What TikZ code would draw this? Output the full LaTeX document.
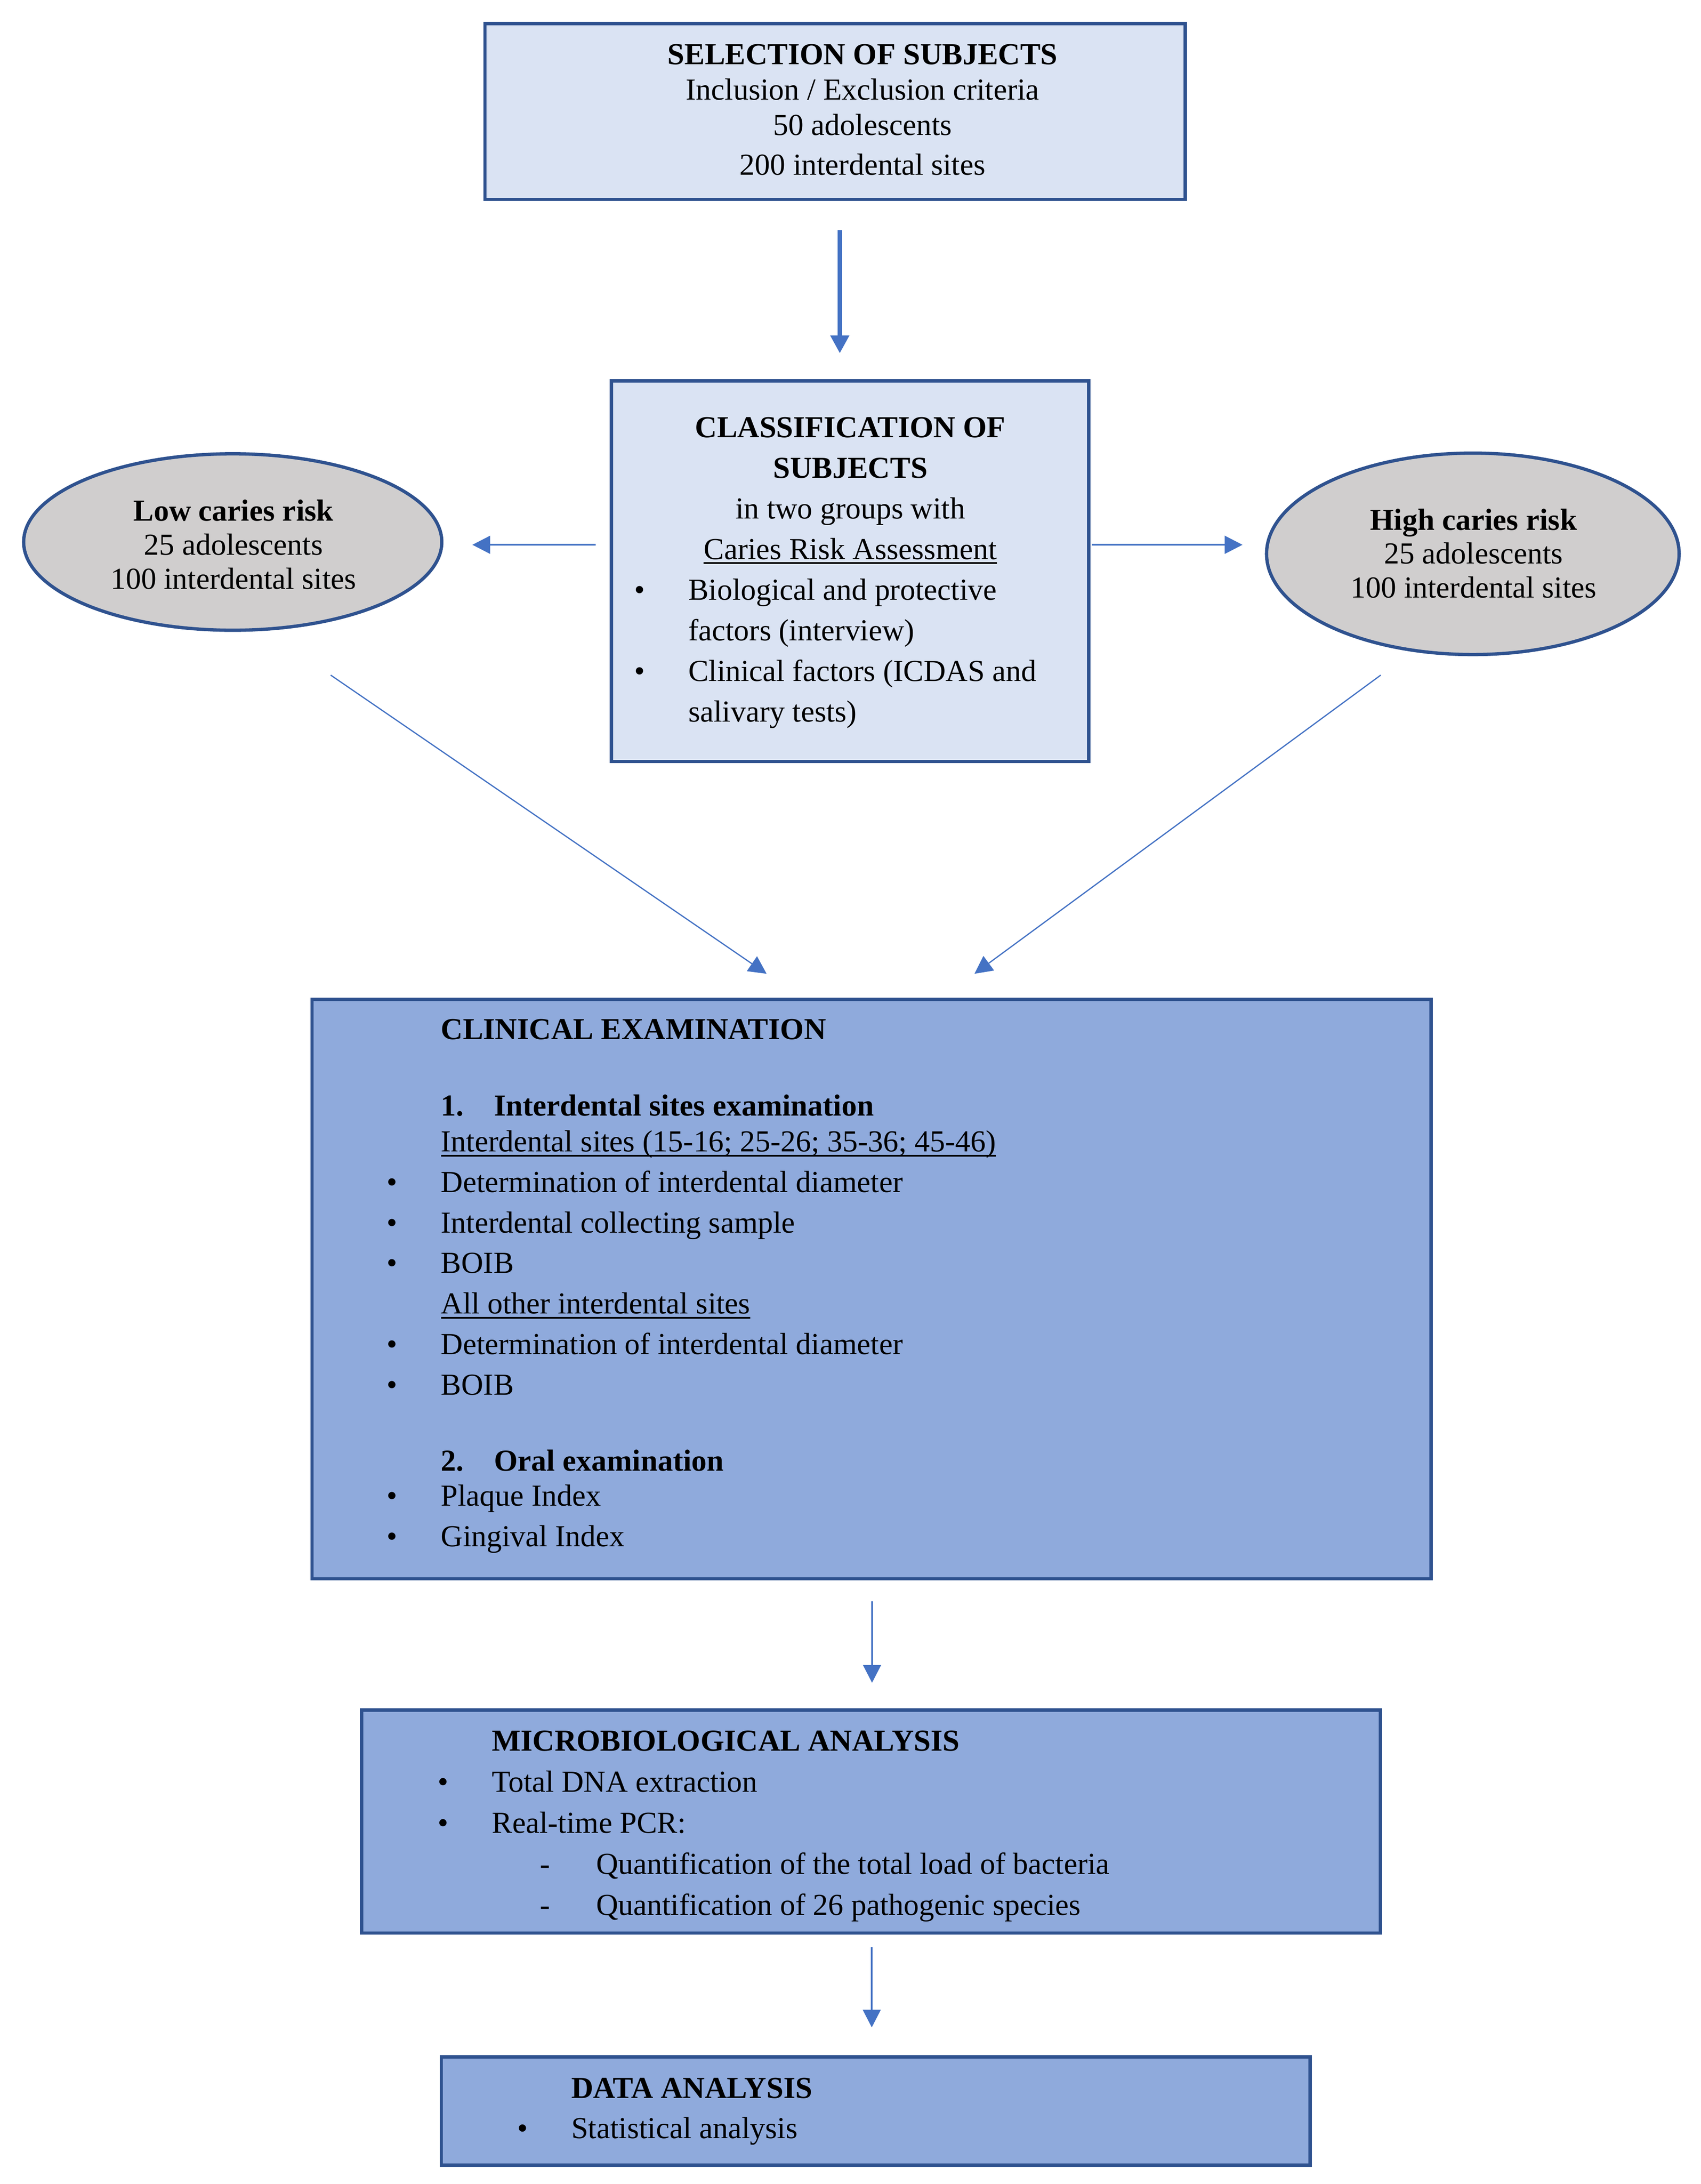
\documentclass[tikz,border=0pt]{standalone}
\usepackage{fontspec}
\setmainfont{Liberation Serif}
\usetikzlibrary{shapes.geometric,arrows.meta,calc}
\definecolor{boxline}{HTML}{2F528F}
\definecolor{boxlight}{HTML}{DAE3F3}
\definecolor{boxmid}{HTML}{8FAADC}
\definecolor{ovalgrey}{HTML}{D0CECE}
\definecolor{arrowblue}{HTML}{4472C4}
\newcommand{\itemdot}{\llap{\makebox[0.78cm][l]{•}}}
\newcommand{\itemdash}{\llap{\makebox[0.81cm][l]{-}}}
\newcommand{\undertext}[1]{\setbox0\hbox{#1}\rlap{\rule[-2pt]{\wd0}{0.7pt}}\box0}

\begin{document}
\begin{tikzpicture}[x=0.02cm, y=-0.02cm,
  lightbox/.style={draw=boxline, fill=boxlight, line width=1.35pt, inner sep=0pt},
  midbox/.style={lightbox, fill=boxmid},
  riskoval/.style={ellipse, draw=boxline, fill=ovalgrey, line width=1.35pt, inner sep=0pt},
  flow/.style={draw=arrowblue, line width=0.75pt, -{Triangle[length=2.56mm, width=2.56mm]}},
  thickflow/.style={flow, line width=1.8pt},
  diagflow/.style={flow, line width=0.5pt},
  txt/.style={inner sep=0pt, font=\fontsize{12.5pt}{#1}\selectfont},
  txt/.default=16.6pt
]
\path[fill=white] (0,0) rectangle (1224,1571.5);
\useasboundingbox (0,0) rectangle (1224,1571.5);

% boxes and ovals
\node[lightbox, minimum width=10.08cm, minimum height=2.53cm] (sel) at (601,80.2) {};
\node[lightbox, minimum width=6.872cm, minimum height=5.48cm] (cls) at (611.8,411) {};
\node[riskoval, minimum width=6.02cm, minimum height=2.54cm] (low) at (167.5,390) {};
\node[riskoval, minimum width=5.94cm, minimum height=2.9cm] (high) at (1060,398.5) {};
\node[midbox, minimum width=16.11cm, minimum height=8.34cm] (clin) at (627.25,927.5) {};
\node[midbox, minimum width=14.67cm, minimum height=3.21cm] (mic) at (626.85,1310.75) {};
\node[midbox, minimum width=12.51cm, minimum height=1.56cm] (dat) at (630.25,1519) {};

% texts
\node[txt=14.45pt, anchor=base] (selText) at (620.8,46.5) {\begin{tabular}[t]{@{}c@{}}
  \textbf{SELECTION OF SUBJECTS}\\
  Inclusion / Exclusion criteria\\
  50 adolescents\\[1.9pt]
  200 interdental sites
\end{tabular}};

\node[txt=16.62pt, anchor=base] (clsHead) at (612,314.7) {\begin{tabular}[t]{@{}c@{}}
  \textbf{CLASSIFICATION OF}\\
  \textbf{SUBJECTS}\\
  in two groups with\\
  \undertext{Caries Risk Assessment}
\end{tabular}};
\node[txt=16.62pt, anchor=base west] (clsList) at (495,431.8) {\begin{tabular}[t]{@{}l@{}}
  \itemdot Biological and protective\\
  factors (interview)\\
  \itemdot Clinical factors (ICDAS and\\
  salivary tests)
\end{tabular}};

\node[txt=14pt, anchor=base] (lowText) at (168,374.7) {\begin{tabular}[t]{@{}c@{}}
  \textbf{Low caries risk}\\
  25 adolescents\\
  100 interdental sites
\end{tabular}};
\node[txt=13.8pt, anchor=base] (highText) at (1060.5,381.5) {\begin{tabular}[t]{@{}c@{}}
  \textbf{High caries risk}\\
  25 adolescents\\
  100 interdental sites
\end{tabular}};

\node[txt=16.6pt, anchor=base west] (clinText) at (317,748) {\begin{tabular}[t]{@{}l@{}}
  \textbf{CLINICAL EXAMINATION}\\[14.7pt]
  \textbf{\makebox[0.766cm][l]{1.}Interdental sites examination}\\[-2pt]
  \undertext{Interdental sites (15-16; 25-26; 35-36; 45-46)}\\
  \itemdot Determination of interdental diameter\\
  \itemdot Interdental collecting sample\\
  \itemdot BOIB\\
  \undertext{All other interdental sites}\\
  \itemdot Determination of interdental diameter\\
  \itemdot BOIB\\[14.5pt]
  \textbf{\makebox[0.766cm][l]{2.}Oral examination}\\[-2.2pt]
  \itemdot Plaque Index\\
  \itemdot Gingival Index
\end{tabular}};

\node[txt=16.84pt, anchor=base west] (micText) at (353.7,1259.7) {\begin{tabular}[t]{@{}l@{}}
  \textbf{MICROBIOLOGICAL ANALYSIS}\\
  \itemdot Total DNA extraction\\
  \itemdot Real-time PCR:\\
  \hspace*{1.5cm}\itemdash Quantification of the total load of bacteria\\
  \hspace*{1.5cm}\itemdash Quantification of 26 pathogenic species
\end{tabular}};

\node[txt=16.45pt, anchor=base west] (datText) at (410.8,1509.6) {\begin{tabular}[t]{@{}l@{}}
  \textbf{DATA ANALYSIS}\\
  \itemdot Statistical analysis
\end{tabular}};

% arrows
\draw[thickflow] ($(sel.south)+(3.4,21.1)$) -- ($(cls.north)+(-7.4,-18.6)$);
\draw[flow] ($(cls.west)+(-10.2,-19)$) -- ($(low.east)+(20.8,2)$);
\draw[flow] ($(cls.east)+(1,-19)$) -- ($(high.west)+(-16.1,-6.5)$);
\draw[diagflow] ($(low.south)+(70.5,31.1)$) -- ($(clin.north)+(-75.55,-17.2)$);
\draw[diagflow] ($(high.south)+(-66.3,13.6)$) -- ($(clin.north)+(74.05,-17.2)$);
\draw[flow] ($(clin.south)+(0.35,15)$) -- ($(mic.north)+(0.75,-18.5)$);
\draw[flow] ($(mic.south)+(0.55,9)$) -- ($(dat.north)+(-2.85,-20)$);
\end{tikzpicture}
\end{document}
